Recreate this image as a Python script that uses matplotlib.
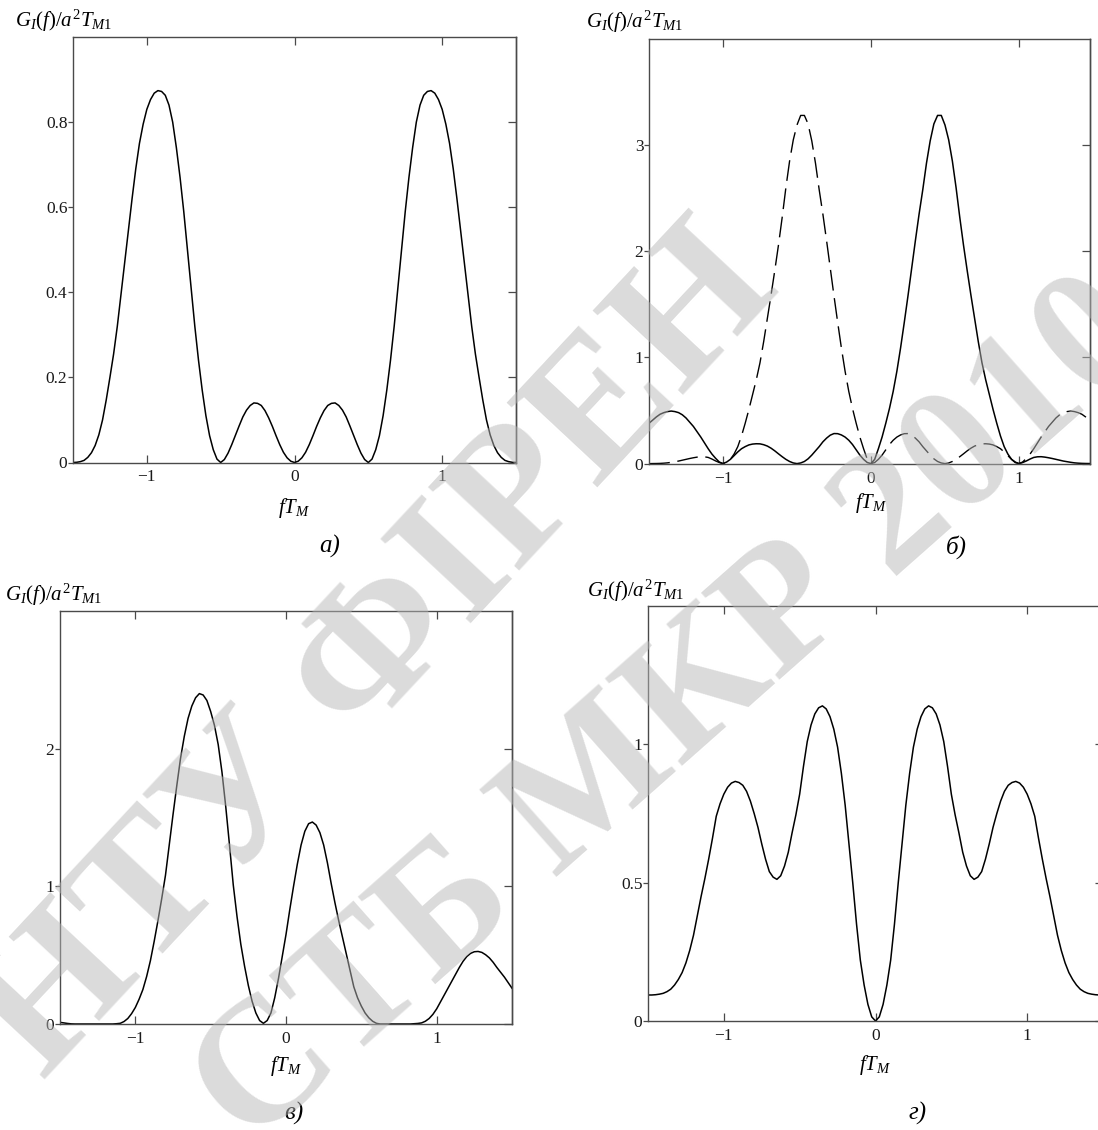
import numpy as np
import matplotlib
matplotlib.use("Agg")
import matplotlib.pyplot as plt

plt.rcParams['font.family'] = ['Liberation Serif', 'DejaVu Serif']
plt.rcParams['mathtext.fontset'] = 'custom'
plt.rcParams['mathtext.rm'] = 'Liberation Serif'
plt.rcParams['mathtext.it'] = 'Liberation Serif:italic'
plt.rcParams['lines.scale_dashes'] = False

# normalised frequency fT_M, step 0.025
f_grid = np.round(np.linspace(-1.5, 1.5, 121), 3)

x_ticks = [-1, 0, 1]
x_tick_labels = ['\u22121', '0', '1']

# а) spectrum
g_a = [0.0, 0.0005, 0.002, 0.005, 0.012, 0.023, 0.04, 0.065, 0.10, 0.147,
       0.20, 0.255, 0.32, 0.395, 0.47, 0.545, 0.62, 0.69, 0.75, 0.795,
       0.83, 0.853, 0.868, 0.874, 0.872, 0.863, 0.84, 0.80, 0.74, 0.67,
       0.59, 0.50, 0.41, 0.32, 0.24, 0.17, 0.11, 0.063, 0.03, 0.008,
       0.0, 0.007, 0.022, 0.042, 0.064, 0.086, 0.107, 0.123, 0.134, 0.140,
       0.139, 0.134, 0.122, 0.105, 0.085, 0.063, 0.042, 0.024, 0.011, 0.003,
       0.0, 0.003, 0.011, 0.024, 0.042, 0.063, 0.085, 0.105, 0.122, 0.134,
       0.139, 0.140, 0.134, 0.123, 0.107, 0.086, 0.064, 0.042, 0.022, 0.007,
       0.0, 0.008, 0.03, 0.063, 0.11, 0.17, 0.24, 0.32, 0.41, 0.50,
       0.59, 0.67, 0.74, 0.80, 0.84, 0.863, 0.872, 0.874, 0.868, 0.853,
       0.83, 0.795, 0.75, 0.69, 0.62, 0.545, 0.47, 0.395, 0.32, 0.255,
       0.20, 0.147, 0.10, 0.065, 0.04, 0.023, 0.012, 0.005, 0.002, 0.0005,
       0.0]
a_yticks = [0, 0.2, 0.4, 0.6, 0.8]
a_ylabels = ['0', '0.2', '0.4', '0.6', '0.8']

# б) two spectra, solid and dashed
g_b_solid = [0.38, 0.41, 0.44, 0.465, 0.48, 0.49, 0.495, 0.49, 0.48, 0.46,
             0.43, 0.39, 0.35, 0.30, 0.25, 0.195, 0.14, 0.09, 0.05, 0.015,
             0.0, 0.015, 0.04, 0.075, 0.11, 0.14, 0.16, 0.176, 0.184, 0.187,
             0.186, 0.178, 0.165, 0.145, 0.12, 0.092, 0.065, 0.04, 0.02, 0.006,
             0.0, 0.006, 0.02, 0.045, 0.08, 0.12, 0.16, 0.205, 0.24, 0.268,
             0.283, 0.282, 0.27, 0.25, 0.22, 0.18, 0.13, 0.08, 0.04, 0.01,
             0.0, 0.04, 0.14, 0.25, 0.38, 0.52, 0.68, 0.87, 1.09, 1.33,
             1.58, 1.84, 2.10, 2.35, 2.58, 2.83, 3.04, 3.20, 3.28, 3.28,
             3.19, 3.05, 2.85, 2.60, 2.32, 2.06, 1.82, 1.59, 1.37, 1.15,
             0.95, 0.79, 0.65, 0.51, 0.38, 0.26, 0.16, 0.09, 0.04, 0.01,
             0.0, 0.01, 0.025, 0.043, 0.058, 0.064, 0.065, 0.061, 0.055, 0.048,
             0.04, 0.032, 0.024, 0.018, 0.012, 0.007, 0.004, 0.002, 0.001, 0.0005,
             0.0]
g_b_dashed = [0.0, 0.0005, 0.001, 0.002, 0.004, 0.007, 0.012, 0.018, 0.024, 0.032,
              0.04, 0.048, 0.055, 0.061, 0.065, 0.064, 0.058, 0.043, 0.025, 0.01,
              0.0, 0.01, 0.04, 0.09, 0.16, 0.26, 0.38, 0.51, 0.65, 0.79,
              0.95, 1.15, 1.37, 1.59, 1.82, 2.06, 2.32, 2.60, 2.85, 3.05,
              3.19, 3.28, 3.28, 3.20, 3.04, 2.83, 2.58, 2.35, 2.10, 1.84,
              1.58, 1.33, 1.09, 0.87, 0.68, 0.52, 0.38, 0.25, 0.14, 0.04,
              0.0, 0.01, 0.04, 0.08, 0.13, 0.18, 0.22, 0.25, 0.27, 0.282,
              0.283, 0.268, 0.24, 0.205, 0.16, 0.12, 0.08, 0.045, 0.02, 0.006,
              0.0, 0.006, 0.02, 0.04, 0.065, 0.092, 0.12, 0.145, 0.165, 0.178,
              0.186, 0.187, 0.184, 0.176, 0.16, 0.14, 0.11, 0.075, 0.04, 0.015,
              0.0, 0.015, 0.05, 0.09, 0.14, 0.195, 0.25, 0.30, 0.35, 0.39,
              0.43, 0.46, 0.48, 0.49, 0.495, 0.49, 0.48, 0.465, 0.44, 0.41,
              0.38]
b_yticks = [0, 1, 2, 3]
b_ylabels = ['0', '1', '2', '3']

# в) spectrum
g_c = [0.012, 0.008, 0.004, 0.001, 0.0, 0.0, 0.0, 0.0, 0.0, 0.0,
       0.0, 0.0, 0.0, 0.0, 0.0, 0.002, 0.005, 0.018, 0.04, 0.075,
       0.12, 0.18, 0.25, 0.345, 0.46, 0.60, 0.75, 0.91, 1.08, 1.30,
       1.52, 1.73, 1.93, 2.09, 2.22, 2.31, 2.37, 2.40, 2.39, 2.35,
       2.27, 2.17, 2.03, 1.83, 1.58, 1.30, 1.01, 0.78, 0.58, 0.42,
       0.28, 0.165, 0.08, 0.025, 0.005, 0.025, 0.08, 0.19, 0.33, 0.49,
       0.65, 0.83, 1.0, 1.16, 1.30, 1.40, 1.455, 1.467, 1.445, 1.39,
       1.30, 1.17, 1.02, 0.88, 0.75, 0.63, 0.51, 0.39, 0.27, 0.19,
       0.13, 0.08, 0.045, 0.02, 0.005, 0.0, 0.0, 0.0, 0.0, 0.0,
       0.0, 0.0, 0.0, 0.0, 0.002, 0.004, 0.008, 0.02, 0.04, 0.07,
       0.11, 0.16, 0.21, 0.26, 0.31, 0.36, 0.41, 0.455, 0.49, 0.513,
       0.525, 0.527, 0.52, 0.503, 0.48, 0.448, 0.41, 0.375, 0.34, 0.30,
       0.26]
c_yticks = [0, 1, 2]
c_ylabels = ['0', '1', '2']

# г) spectrum
g_d = [0.094, 0.094, 0.095, 0.097, 0.10, 0.106, 0.115, 0.13, 0.15, 0.175,
       0.21, 0.255, 0.31, 0.38, 0.45, 0.515, 0.585, 0.66, 0.74, 0.785,
       0.82, 0.845, 0.86, 0.866, 0.862, 0.852, 0.83, 0.795, 0.75, 0.70,
       0.64, 0.585, 0.54, 0.52, 0.512, 0.525, 0.56, 0.61, 0.68, 0.745,
       0.82, 0.92, 1.01, 1.07, 1.11, 1.132, 1.139, 1.128, 1.10, 1.055,
       0.99, 0.895, 0.78, 0.64, 0.50, 0.35, 0.22, 0.13, 0.06, 0.015,
       0.0, 0.015, 0.06, 0.13, 0.22, 0.35, 0.50, 0.64, 0.78, 0.895,
       0.99, 1.055, 1.10, 1.128, 1.139, 1.132, 1.11, 1.07, 1.01, 0.92,
       0.82, 0.745, 0.68, 0.61, 0.56, 0.525, 0.512, 0.52, 0.54, 0.585,
       0.64, 0.70, 0.75, 0.795, 0.83, 0.852, 0.862, 0.866, 0.86, 0.845,
       0.82, 0.785, 0.74, 0.66, 0.585, 0.515, 0.45, 0.38, 0.31, 0.255,
       0.21, 0.175, 0.15, 0.13, 0.115, 0.106, 0.10, 0.097, 0.095, 0.094,
       0.094]
d_yticks = [0, 0.5, 1]
d_ylabels = ['0', '0.5', '1']

W, H = 1098, 1130
fig = plt.figure(figsize=(W / 100, H / 100), dpi=100)

YLAB = r'$G_I(f)/a^2T_{M1}$'
FRAME = '#4a4a4a'


def fig_text(xp, yp, s, **kw):
    return fig.text(xp / W, 1 - yp / H, s, **kw)


def make_panel(box, xlim, ylim, yticks, ylabels, ylab_pos, xlab_dy, letter, letter_pos):
    l, t, r, b = box
    ax = fig.add_axes([l / W, 1 - b / H, (r - l) / W, (b - t) / H])
    ax.set_facecolor('none')
    ax.set_xlim(*xlim)
    ax.set_ylim(*ylim)
    ax.set_xticks(x_ticks)
    ax.set_xticklabels(x_tick_labels)
    ax.set_yticks(yticks)
    ax.set_yticklabels(ylabels)
    ax.tick_params(axis='x', direction='in', top=True, length=6, width=0.9,
                   pad=5, labelsize=12.5, color=FRAME, labelcolor='#1a1a1a')
    ax.tick_params(axis='y', direction='out', length=3.5, width=0.9,
                   pad=0.5, labelsize=12.5, color=FRAME, labelcolor='#1a1a1a')
    sec = ax.secondary_yaxis('right')
    sec.set_yticks(yticks)
    sec.tick_params(direction='in', length=6, width=0.9, color=FRAME, labelright=False)
    for sp in list(ax.spines.values()) + list(sec.spines.values()):
        sp.set_color(FRAME)
        sp.set_linewidth(1.0)
    fig_text(ylab_pos[0], ylab_pos[1], YLAB, fontsize=15, ha='left', va='center')
    ax.text(0, -xlab_dy / (b - t), r'$fT_M$', transform=ax.get_xaxis_transform(),
            fontsize=15, ha='center', va='center')
    fig_text(letter_pos[0], letter_pos[1], letter, fontsize=18, style='italic',
             ha='center', va='center')
    return ax


ax_a = make_panel((73, 37, 516, 462.5), (-1.5, 1.5), (0, 1.0), a_yticks, a_ylabels,
                  (15, 21), 45, 'а)', (330, 546))
ax_a.plot(f_grid, g_a, color='black', lw=1.1)

ax_b = make_panel((649, 39, 1090, 463.6), (-1.5, 1.48), (0, 4), b_yticks, b_ylabels,
                  (586, 22), 39, 'б)', (956, 547))
ax_b.plot(f_grid, g_b_solid, color='black', lw=1.1)
ax_b.plot(f_grid, g_b_dashed, color='black', lw=1.0, dashes=(15, 5.5))

ax_c = make_panel((60, 611, 512, 1024), (-1.5, 1.5), (0, 3), c_yticks, c_ylabels,
                  (5, 595), 42, 'в)', (294, 1113))
ax_c.plot(f_grid, g_c, color='black', lw=1.1)

ax_d = make_panel((648, 606, 1103, 1021), (-1.5, 1.5), (0, 1.5), d_yticks, d_ylabels,
                  (587, 591), 44, 'г)', (918, 1113))
ax_d.plot(f_grid, g_d, color='black', lw=1.1)

# diagonal watermark
wm = dict(fontweight='bold', color='#b8b8b8', alpha=0.5,
          ha='center', va='center', rotation_mode='anchor', zorder=20)
fig_text(380, 655, 'НТУ ФІРЕН', rotation=47, fontsize=136, **wm)
fig_text(675, 715, 'СТБ МКР 2010', rotation=41.5, fontsize=128, **wm)

fig.savefig('out.png', dpi=100, facecolor='white')
